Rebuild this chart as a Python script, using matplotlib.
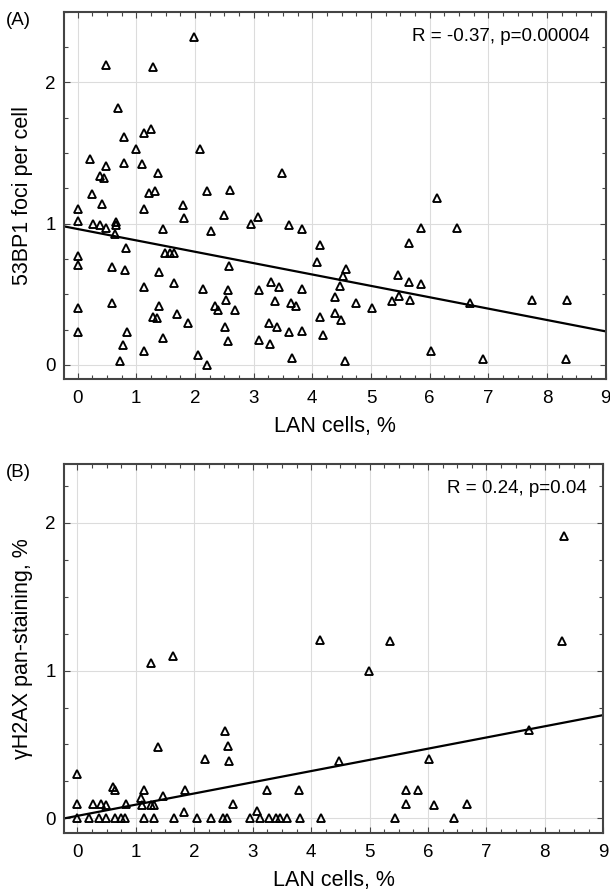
import numpy as np
import matplotlib
matplotlib.use("Agg")
import matplotlib.pyplot as plt
from matplotlib.ticker import MultipleLocator

plt.rcParams['font.family'] = ['Liberation Sans', 'DejaVu Sans']

# panel A: LAN cells % vs 53BP1 foci per cell
lan_a = [1.99, 0.49, 1.29, 0.69, 0.79, 1.14, 1.25, 0.99, 2.09, 0.21, 0.48, 0.79, 1.09,
         0.39, 0.45, 1.37, 3.49, 0.24, 1.22, 1.32, 2.20, 2.60, 0.00, 0.41, 1.14, 1.80,
         0.00, 0.27, 0.38, 0.48, 0.66, 0.66, 0.63, 1.82, 2.49, 1.45, 2.28, 2.96, 3.08,
         3.60, 3.83, 0.83, 0.00, 0.00, 0.58, 0.81, 1.49, 1.58, 1.65, 1.38, 2.58, 1.13,
         1.64, 2.14, 2.56, 2.53, 3.09, 3.29, 3.44, 3.82, 3.37, 3.63, 3.72, 0.59, 0.00,
         1.38, 2.34, 2.40, 2.68, 1.69, 1.29, 1.35, 1.89, 0.00, 0.85, 2.52, 3.26, 3.40,
         3.60, 3.82, 1.46, 2.56, 3.10, 3.28, 0.78, 1.14, 0.73, 2.05, 2.20, 3.65, 4.13,
         4.08, 4.13, 4.19, 6.12, 5.85, 6.46, 5.65, 4.57, 4.53, 4.47, 4.39, 4.39, 4.49,
         4.74, 5.01, 5.46, 5.65, 5.85, 5.47, 5.36, 5.66, 6.69, 7.75, 8.34, 4.56, 6.03,
         6.91, 8.33]
foci_a = [2.32, 2.12, 2.11, 1.82, 1.61, 1.64, 1.67, 1.53, 1.53, 1.46, 1.41, 1.43, 1.42,
          1.34, 1.32, 1.36, 1.36, 1.21, 1.22, 1.23, 1.23, 1.24, 1.10, 1.14, 1.10, 1.13,
          1.02, 1.00, 0.99, 0.97, 1.01, 0.99, 0.93, 1.04, 1.06, 0.96, 0.95, 1.00, 1.05,
          0.99, 0.96, 0.83, 0.77, 0.71, 0.69, 0.67, 0.79, 0.79, 0.79, 0.66, 0.70, 0.55,
          0.58, 0.54, 0.53, 0.46, 0.53, 0.59, 0.55, 0.54, 0.45, 0.44, 0.42, 0.44, 0.40,
          0.42, 0.42, 0.39, 0.39, 0.36, 0.34, 0.33, 0.30, 0.23, 0.23, 0.27, 0.30, 0.27,
          0.23, 0.24, 0.19, 0.17, 0.18, 0.15, 0.14, 0.10, 0.03, 0.07, 0.00, 0.05, 0.85,
          0.73, 0.34, 0.21, 1.18, 0.97, 0.97, 0.86, 0.68, 0.63, 0.56, 0.48, 0.37, 0.32,
          0.44, 0.40, 0.64, 0.59, 0.57, 0.49, 0.45, 0.46, 0.44, 0.46, 0.46, 0.03, 0.10,
          0.04, 0.04]

# panel B: LAN cells % vs gH2AX pan-staining %
lan_b = [4.15, 1.64, 1.25, 2.52, 2.57, 1.37, 2.59, 2.19, 0.00, 0.61, 0.65, 1.13, 1.84,
         3.25, 3.80, 1.46, 1.09, 0.00, 0.26, 0.41, 0.48, 0.83, 1.11, 1.25, 1.31, 2.66,
         1.83, 3.07,
         0.00, 0.20, 0.37, 0.48, 0.65, 0.75, 0.82, 1.14, 1.31, 1.65, 2.04, 2.28, 2.49,
         2.56, 2.96, 3.12, 3.27, 3.40, 3.47, 3.59, 3.81, 4.17,
         5.35, 8.30, 4.99, 7.72, 4.48, 6.01, 5.63, 5.83, 5.63, 6.11, 6.67, 5.44, 6.45, 8.32]
h2ax_b = [1.21, 1.10, 1.05, 0.59, 0.49, 0.48, 0.39, 0.40, 0.30, 0.21, 0.19, 0.19, 0.19,
          0.19, 0.19, 0.15, 0.14, 0.10, 0.10, 0.10, 0.09, 0.10, 0.09, 0.09, 0.09, 0.10,
          0.04, 0.05,
          0.0, 0.0, 0.0, 0.0, 0.0, 0.0, 0.0, 0.0, 0.0, 0.0, 0.0, 0.0, 0.0,
          0.0, 0.0, 0.0, 0.0, 0.0, 0.0, 0.0, 0.0, 0.0,
          1.20, 1.20, 1.00, 0.60, 0.39, 0.40, 0.19, 0.19, 0.10, 0.09, 0.10, 0.00, 0.00, 1.91]

# regression lines (intercept, slope)
fit_a = (0.962, -0.0805)
fit_b = (0.017, 0.0758)

panels = [
    dict(x=lan_a, y=foci_a, fit=fit_a, ylim=(-0.1, 2.5), tag='(A)',
         note='R = -0.37, p=0.00004', ylabel='53BP1 foci per cell',
         rect=[0.105, 0.575, 0.888, 0.412]),
    dict(x=lan_b, y=h2ax_b, fit=fit_b, ylim=(-0.1, 2.4), tag='(B)',
         note='R = 0.24, p=0.04', ylabel='\u03b3H2AX pan-staining, %',
         rect=[0.105, 0.066, 0.884, 0.414]),
]

fig = plt.figure(figsize=(6.1, 8.92), dpi=100)

for p in panels:
    ax = fig.add_axes(p['rect'])
    ax.set_xlim(-0.23, 9)
    ax.set_ylim(*p['ylim'])
    ax.grid(True, which='major', color='#dcdcdc', linewidth=0.8)
    ax.set_axisbelow(True)

    xs = np.linspace(-0.23, 9, 50)
    ax.plot(xs, p['fit'][0] + p['fit'][1] * xs, color='black', linewidth=1.6, zorder=2)
    ax.plot(p['x'], p['y'], linestyle='none', marker='^', markersize=6.2,
            markerfacecolor='none', markeredgecolor='black', markeredgewidth=1.35, zorder=3)

    ax.xaxis.set_major_locator(MultipleLocator(1))
    ax.xaxis.set_minor_locator(MultipleLocator(0.25))
    ax.yaxis.set_major_locator(MultipleLocator(1))
    ax.yaxis.set_minor_locator(MultipleLocator(0.25))
    ax.tick_params(which='both', direction='in', top=True, right=True,
                   color='#444444', labelsize=13.5)
    ax.tick_params(which='major', length=4, width=0.8, pad=6)
    ax.tick_params(axis='x', which='major', pad=8)
    ax.tick_params(which='minor', length=3, width=0.8)
    for s in ax.spines.values():
        s.set_color('#444444')
        s.set_linewidth(1.5)

    ax.set_xlabel('LAN cells, %', fontsize=15.5, labelpad=6)
    ax.set_ylabel(p['ylabel'], fontsize=15.5, labelpad=9)
    ax.text(0.97, 0.955, p['note'], transform=ax.transAxes, ha='right', va='top',
            fontsize=13.5)
    ax.text(-0.107, 1.0, p['tag'], transform=ax.transAxes, ha='left', va='top',
            fontsize=13.5)

fig.savefig('out.png', dpi=100)
